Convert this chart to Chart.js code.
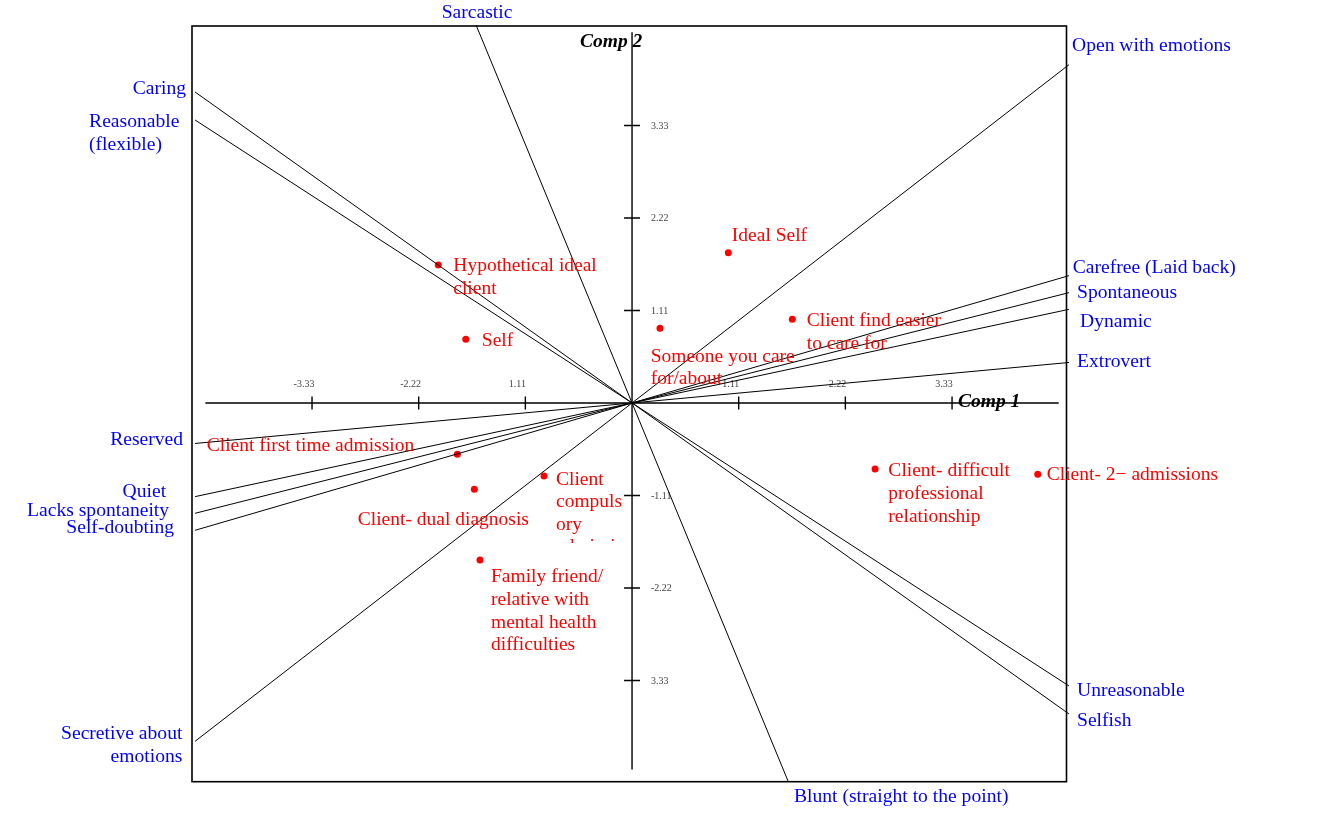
<!DOCTYPE html>
<html><head><meta charset="utf-8">
<script src="https://cdn.jsdelivr.net/npm/chart.js@4.4.0/dist/chart.umd.min.js"></script>
<style>html,body{margin:0;padding:0;background:#fff;overflow:hidden}canvas{display:block}</style>
</head><body>
<canvas id="c" width="1329" height="829"></canvas>
<script>
// ---- DATA ----
const elementNames = [
  'Hypothetical ideal\nclient', 'Self', 'Ideal Self', 'Someone you care\nfor/about',
  'Client find easier\nto care for', 'Client first time admission', 'Client- dual diagnosis',
  'Client\ncompuls\nory\nadmission', 'Family friend/\nrelative with\nmental health\ndifficulties',
  'Client- difficult\nprofessional\nrelationship', 'Client- 2\u2212 admissions'
];
const elementX = [-2.016, -1.730, 1.002, 0.291, 1.668, -1.818, -1.641, -0.916, -1.582, 2.529, 4.222];
const elementY = [1.656, 0.764, 1.804, 0.896, 1.004, -0.616, -1.036, -0.876, -1.884, -0.792, -0.856];

const constructPoles = ['Extrovert', 'Dynamic', 'Spontaneous', 'Carefree (Laid back)', 'Open with emotions',
  'Unreasonable', 'Selfish', 'Blunt (straight to the point)'];
const constructOpposites = ['Reserved', 'Quiet', 'Lacks spontaneity', 'Self-doubting', 'Secretive about\nemotions',
  'Reasonable\n(flexible)', 'Caring', 'Sarcastic'];
const constructX = [4.547, 4.547, 4.547, 4.547, 4.547, 4.547, 4.547, 1.623];
const constructY = [0.486, 1.124, 1.324, 1.528, 4.06, -3.396, -3.732, -4.536];

const xTickValues = [-3.33, -2.22, -1.11, 1.11, 2.22, 3.33];
const xTickLabels = ['-3.33', '-2.22', '1.11', '1.11', '2.22', '3.33'];
const yTickValues = [3.33, 2.22, 1.11, -1.11, -2.22, -3.33];
const yTickLabels = ['3.33', '2.22', '1.11', '-1.11', '-2.22', '3.33'];
const axisTitles = ['Comp 1', 'Comp 2'];

// ---- LAYOUT (label offsets in px) ----
const elementLabelLayout = [
  {dx: 15, dy: 0}, {dx: 16, dy: 0}, {dx: 3.5, dy: -17.7}, {dx: -9.3, dy: 27.7, gap: 21.5},
  {dx: 14.4, dy: 0.7}, {dx: -250.6, dy: -9.3}, {dx: -116.6, dy: 29},
  {dx: 12, dy: 2.3, gap: 22.6, clipDy: 67}, {dx: 11, dy: 16, gap: 22.7},
  {dx: 13.3, dy: 1}, {dx: 9, dy: -1}
];
const poleLabelLayout = [
  {dx: 8, dy: -1.5, align: 'left'}, {dx: 11, dy: 11.7, align: 'left'}, {dx: 8, dy: -1, align: 'left'},
  {dx: 3.7, dy: -9, align: 'left'}, {dx: 3, dy: -20, align: 'left'}, {dx: 8, dy: 4, align: 'left'},
  {dx: 8, dy: 6, align: 'left'}, {dx: 6, dy: 15, align: 'left'}
];
const oppositeLabelLayout = [
  {dx: -12, dy: -5, align: 'right'}, {dx: -29, dy: -6, align: 'right'}, {dx: -26, dy: -4, align: 'right'},
  {dx: -21, dy: -3.6, align: 'right'}, {dx: -12.7, dy: -9, align: 'right'}, {dx: -106, dy: 1, align: 'left'},
  {dx: -9, dy: -4, align: 'right'}, {dx: 1, dy: -13, align: 'center'}
];

const SERIF = '"Liberation Serif", "Times New Roman", serif';
const RED = '#ff0000', BLUE = '#0000ff';

function drawLines(ctx, text, x, y, gap) {
  text.split('\n').forEach((t, i) => ctx.fillText(t, x, y + i * gap + 6.4));
}

const biplotPlugin = {
  id: 'biplot',
  beforeDraw(chart) {
    const ctx = chart.ctx;
    ctx.save(); ctx.fillStyle = '#fff'; ctx.fillRect(0, 0, chart.width, chart.height); ctx.restore();
  },
  beforeDatasetsDraw(chart) {
    const {ctx, chartArea: a, scales: {x, y}} = chart;
    const x0 = x.getPixelForValue(0), y0 = y.getPixelForValue(0);
    ctx.save();
    ctx.strokeStyle = '#000';
    ctx.lineWidth = 1.6;
    ctx.strokeRect(a.left, a.top, a.right - a.left, a.bottom - a.top);
    ctx.lineWidth = 1.4;
    ctx.beginPath();
    ctx.moveTo(x.getPixelForValue(-4.44), y0); ctx.lineTo(x.getPixelForValue(4.44), y0);
    ctx.moveTo(x0, y.getPixelForValue(4.45)); ctx.lineTo(x0, y.getPixelForValue(-4.40));
    xTickValues.forEach(v => { const px = x.getPixelForValue(v); ctx.moveTo(px, y0 - 6.5); ctx.lineTo(px, y0 + 6.5); });
    yTickValues.forEach(v => { const py = y.getPixelForValue(v); ctx.moveTo(x0 - 8, py); ctx.lineTo(x0 + 8, py); });
    ctx.stroke();
    ctx.fillStyle = '#444';
    ctx.font = '10px ' + SERIF;
    ctx.textAlign = 'center'; ctx.textBaseline = 'alphabetic';
    xTickValues.forEach((v, i) => ctx.fillText(xTickLabels[i], x.getPixelForValue(v) - 8, y0 - 15.5));
    ctx.textAlign = 'left';
    yTickValues.forEach((v, i) => ctx.fillText(yTickLabels[i], x0 + 19, y.getPixelForValue(v) + 3.5));
    ctx.fillStyle = '#000';
    ctx.font = 'italic bold 19.5px ' + SERIF;
    ctx.fillText(axisTitles[0], x0 + 326, y0 + 3.7);
    ctx.fillText(axisTitles[1], x0 - 52, y.getPixelForValue(4.45) + 15.3);
    ctx.restore();
  },
  afterDatasetsDraw(chart) {
    const {ctx, scales: {x, y}} = chart;
    ctx.save();
    ctx.font = '19.6px ' + SERIF;
    ctx.textBaseline = 'alphabetic';
    ctx.fillStyle = BLUE;
    constructPoles.forEach((p, i) => {
      const L = poleLabelLayout[i];
      ctx.textAlign = L.align;
      drawLines(ctx, p, x.getPixelForValue(constructX[i]) + L.dx, y.getPixelForValue(constructY[i]) + L.dy, 23);
    });
    constructOpposites.forEach((p, i) => {
      const L = oppositeLabelLayout[i];
      ctx.textAlign = L.align;
      drawLines(ctx, p, x.getPixelForValue(-constructX[i]) + L.dx, y.getPixelForValue(-constructY[i]) + L.dy, 23);
    });
    ctx.fillStyle = RED;
    ctx.textAlign = 'left';
    ctx.font = '19.5px ' + SERIF;
    elementNames.forEach((n, i) => {
      const L = elementLabelLayout[i];
      const px = x.getPixelForValue(elementX[i]), py = y.getPixelForValue(elementY[i]);
      ctx.save();
      if (L.clipDy) { ctx.beginPath(); ctx.rect(0, 0, chart.width, py + L.clipDy); ctx.clip(); }
      drawLines(ctx, n, px + L.dx, py + L.dy, L.gap || 23);
      ctx.restore();
    });
    ctx.restore();
  }
};

const constructDatasets = constructX.map((cx, i) => ({
  data: [{x: -cx, y: -constructY[i]}, {x: cx, y: constructY[i]}],
  showLine: true, borderColor: '#000', borderWidth: 1, pointRadius: 0, clip: false
}));

new Chart(document.getElementById('c'), {
  type: 'scatter',
  data: {
    datasets: [
      ...constructDatasets,
      {
        data: elementX.map((v, i) => ({x: v, y: elementY[i]})),
        backgroundColor: RED, borderColor: RED, pointRadius: 3.5, borderWidth: 0, clip: false
      }
    ]
  },
  options: {
    responsive: false, animation: false, devicePixelRatio: 1,
    layout: {padding: {left: 192, right: 262.5, top: 26, bottom: 47.3}},
    plugins: {legend: {display: false}, tooltip: {enabled: false}},
    scales: {
      x: {type: 'linear', min: -4.579, max: 4.521, display: false},
      y: {type: 'linear', min: -4.545, max: 4.524, display: false}
    }
  },
  plugins: [biplotPlugin]
});
</script>
</body></html>
